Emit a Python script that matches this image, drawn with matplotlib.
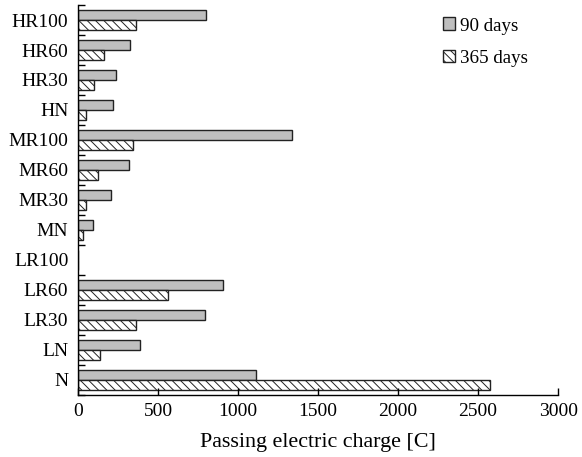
import numpy as np
import matplotlib.pyplot as plt
from matplotlib.ticker import FixedLocator

plt.rcParams["font.family"] = ["Liberation Serif", "DejaVu Serif"]
plt.rcParams["hatch.linewidth"] = 0.7
plt.rcParams["hatch.color"] = "#555555"

# données (de bas en haut)
categories = ["N", "LN", "LR30", "LR60", "LR100", "MN", "MR30", "MR60",
              "MR100", "HN", "HR30", "HR60", "HR100"]
days_90 = [1115, 389, 794, 908, 0, 95, 206, 319, 1335, 219, 238, 325, 800]
days_365 = [2575, 137, 364, 562, 0, 33, 50, 125, 345, 50, 100, 163, 362]
xticks = [0, 500, 1000, 1500, 2000, 2500, 3000]

fig = plt.figure(figsize=(5.82, 4.57), dpi=100)
ax = fig.add_axes([0.134, 0.136, 0.825, 0.853])

y = np.arange(len(categories))
h = 0.333
ax.barh(y + h / 2, days_90, height=h, color="#bfbfbf", edgecolor="#222222",
        linewidth=1.0, label="90 days")
ax.barh(y - h / 2, days_365, height=h, color="white", edgecolor="#222222",
        linewidth=1.0, hatch="\\\\\\\\", label="365 days")

ax.set_xlim(0, 3000)
ax.set_ylim(-0.5, len(categories) - 0.5)
ax.set_xticks(xticks)
ax.set_yticks(y)
ax.set_yticklabels(categories)
ax.yaxis.set_minor_locator(FixedLocator(np.arange(-0.5, len(categories), 1.0)))

ax.tick_params(axis="y", which="major", length=0, labelsize=14, pad=7)
ax.tick_params(axis="y", which="minor", direction="in", length=5, width=1)
ax.tick_params(axis="x", direction="in", length=5, width=1, labelsize=14, pad=6)

ax.spines["top"].set_visible(False)
ax.spines["right"].set_visible(False)
ax.spines["left"].set_linewidth(1)
ax.spines["bottom"].set_linewidth(1)

ax.set_xlabel("Passing electric charge [C]", fontsize=15.8, labelpad=9)

ax.legend(loc="upper right", bbox_to_anchor=(0.973, 1.012), frameon=False,
          fontsize=13.7, handlelength=0.65, handleheight=0.65, handletextpad=0.25,
          labelspacing=0.8)

fig.savefig("out.png", dpi=100)
